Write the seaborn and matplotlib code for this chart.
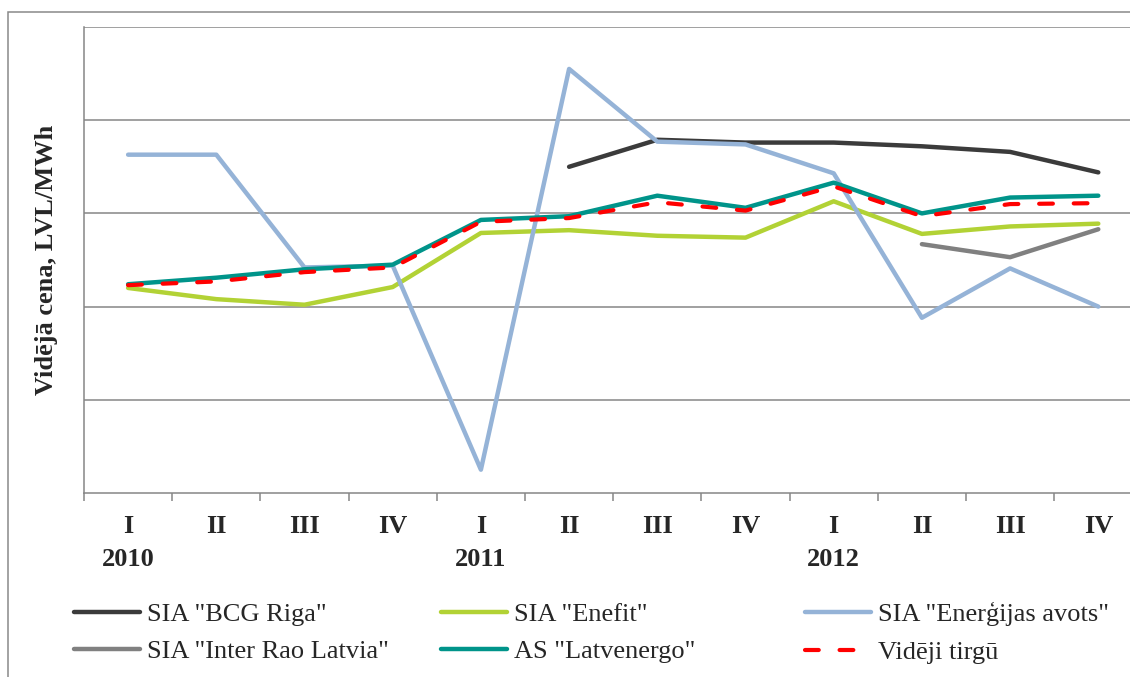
import numpy as np
import pandas as pd
import matplotlib.pyplot as plt
from matplotlib.patches import Rectangle
import seaborn as sns

quarters = ['I', 'II', 'III', 'IV'] * 3
years = ['2010', '2011', '2012']
nan = np.nan

# values (y axis carries no labels, scale is arbitrary)
bcg_riga = [nan, nan, nan, nan, nan, 35.0, 37.9, 37.6, 37.6, 37.2, 36.6, 34.4]
enefit = [22.0, 20.8, 20.2, 22.1, 27.9, 28.2, 27.6, 27.4, 31.3, 27.8, 28.6, 28.9]
energijas_avots = [36.3, 36.3, 24.2, 24.4, 2.5, 45.5, 37.7, 37.4, 34.3, 18.8, 24.1, 20.0]
inter_rao = [nan, nan, nan, nan, nan, nan, nan, nan, nan, 26.7, 25.3, 28.3]
latvenergo = [22.4, 23.1, 24.0, 24.5, 29.3, 29.7, 31.9, 30.6, 33.3, 30.0, 31.7, 31.9]
videji_tirgu = [22.3, 22.7, 23.7, 24.2, 29.1, 29.5, 31.2, 30.3, 32.9, 29.7, 31.0, 31.1]

series_names = ['SIA "BCG Riga"', 'SIA "Enefit"', 'SIA "Enerģijas avots"',
                'SIA "Inter Rao Latvia"', 'AS "Latvenergo"', 'Vidēji tirgū']
series_values = [bcg_riga, enefit, energijas_avots, inter_rao, latvenergo, videji_tirgu]
colors = ['#3b3b3b', '#b2d235', '#95b3d7', '#808080', '#00948a', '#ff0000']

sns.set_style('white')
plt.rcParams['font.family'] = ['Liberation Serif', 'DejaVu Serif']

fig = plt.figure(figsize=(11.3, 6.77), dpi=100)
ax = fig.add_axes([84 / 1130, 1 - 493 / 677, 1058.4 / 1130, 466 / 677])

x = np.arange(len(quarters))
for name, vals, col in zip(series_names, series_values, colors):
    df = pd.DataFrame({'x': x, 'y': vals}).dropna()
    if name == 'Vidēji tirgū':
        sns.lineplot(data=df, x='x', y='y', ax=ax, color=col, lw=3.0, label=name)
        ax.lines[-1].set_dashes((3.3, 5.0))
        ax.lines[-1].set_dash_capstyle('round')
    else:
        sns.lineplot(data=df, x='x', y='y', ax=ax, color=col, lw=3.2, label=name)
        ax.lines[-1].set_solid_capstyle('round')

grid_c = '#868686'
ax.set_xlim(-0.5, 11.5)
ax.set_ylim(0, 50)
ax.set_yticks([10, 20, 30, 40, 50])
ax.set_yticklabels([])
ax.tick_params(axis='y', length=0)
ax.yaxis.grid(True, color=grid_c, lw=1.1)
ax.xaxis.grid(False)

labels = [q + ('\n' + years[i // 4] if i % 4 == 0 else '') for i, q in enumerate(quarters)]
ax.set_xticks(x)
ax.set_xticklabels(labels, fontsize=19, fontweight='bold', linespacing=1.52)
ax.set_xticks(np.arange(-0.5, 12, 1), minor=True)
ax.tick_params(axis='x', which='major', length=0, pad=16)
ax.tick_params(axis='x', which='minor', bottom=True, length=6, width=1.1,
               color=grid_c, direction='out')
ax.set_xlabel('')

for s in ['top', 'right']:
    ax.spines[s].set_visible(False)
for s in ['left', 'bottom']:
    ax.spines[s].set_color(grid_c)
    ax.spines[s].set_linewidth(1.1)

ax.set_ylabel('Vidējā cena, LVL/MWh', fontsize=19, fontweight='bold')
ax.yaxis.set_label_coords((47 - 84) / 1058.4, 0.5)
ax.yaxis.label.set_verticalalignment('center')

# legend: three columns placed like the original
handles, names = ax.get_legend_handles_labels()
ax.get_legend().remove()
col_x = [74, 441, 805]
for c in range(3):
    idx = [c, c + 3]
    fig.legend([handles[i] for i in idx], [names[i] for i in idx],
               loc='center left', bbox_to_anchor=(col_x[c] / 1130, 1 - 633 / 677),
               frameon=False, fontsize=19, borderpad=0, borderaxespad=0,
               handlelength=2.5, handletextpad=0.25, labelspacing=0.53)

# outer chart border
fig.patches.append(Rectangle((7.5 / 1130, -0.1), 1.2, 1.1 - 12 / 677,
                             transform=fig.transFigure, fill=False,
                             edgecolor='#898989', lw=1.1))

fig.savefig('out.png', dpi=100)
